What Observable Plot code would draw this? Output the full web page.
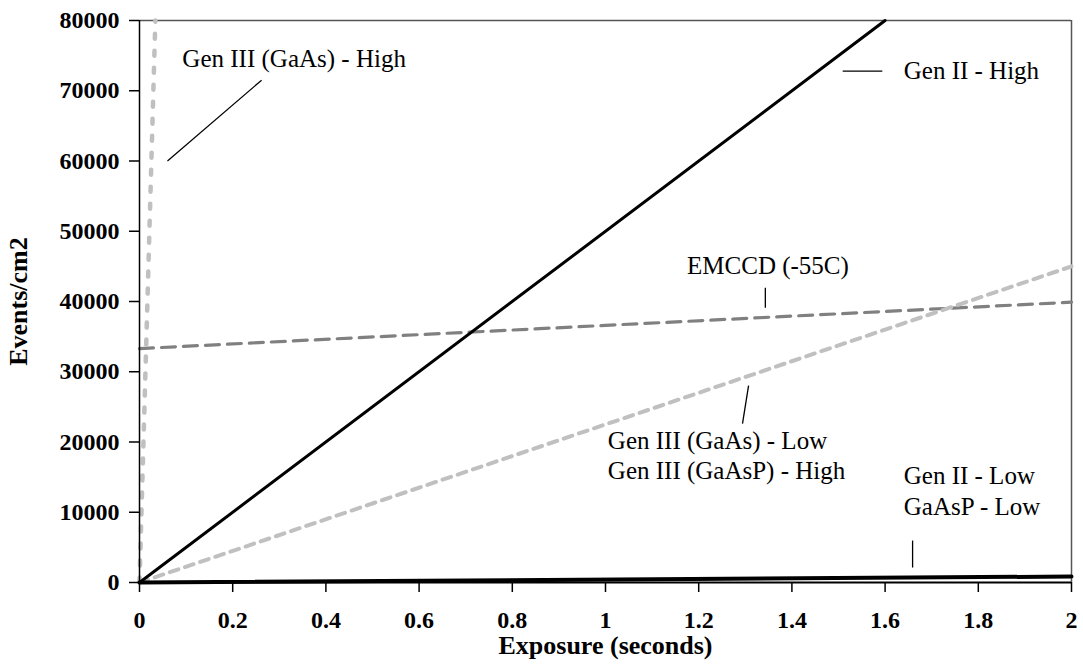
<!DOCTYPE html>
<html>
<head>
<meta charset="utf-8">
<script src="https://cdn.jsdelivr.net/npm/d3@7"></script>
<script src="https://cdn.jsdelivr.net/npm/@observablehq/plot@0.6"></script>
<style>
  html, body { margin: 0; padding: 0; background: white; }
</style>
</head>
<body>
<div id="chart"></div>
<script>
// ---- Data ----
const xTicks = [0, 0.2, 0.4, 0.6, 0.8, 1, 1.2, 1.4, 1.6, 1.8, 2];
const yTicks = [0, 10000, 20000, 30000, 40000, 50000, 60000, 70000, 80000];

// series endpoints (x = exposure in s, y = events/cm2)
const genIIHighX = [0, 1.6];
const genIIHighY = [0, 80000];
const genIILowX = [0, 2];
const genIILowY = [0, 850];
const gaasLowX = [0, 2];
const gaasLowY = [0, 45000];
const gaasHighX = [0, 0.034];
const gaasHighY = [0, 80000];
const emccdX = [0, 2];
const emccdY = [33300, 39900];

// annotation labels (data coordinates)
const labelText = [
  "Gen III (GaAs) - High",
  "Gen II - High",
  "EMCCD (-55C)",
  "Gen III (GaAs) - Low",
  "Gen III (GaAsP) - High",
  "Gen II - Low",
  "GaAsP - Low"
];
const labelX = [0.092, 1.64, 1.175, 1.005, 1.005, 1.64, 1.64];
const labelY = [74500, 72800, 45000, 20200, 15900, 15100, 10700];

// leader lines (data coordinates)
const leaderX1 = [0.060, 1.509, 1.343, 1.294, 1.659];
const leaderY1 = [60000, 72800, 41950, 22610, 5970];
const leaderX2 = [0.262, 1.594, 1.343, 1.307, 1.659];
const leaderY2 = [71500, 72800, 39110, 28020, 2130];

// ---- Build tables ----
const toPts = (xs, ys) => xs.map((x, i) => ({x, y: ys[i]}));
const labels = labelText.map((t, i) => ({text: t, x: labelX[i], y: labelY[i]}));
const leaders = leaderX1.map((x1, i) => ({x1, y1: leaderY1[i], x2: leaderX2[i], y2: leaderY2[i]}));

const chart = Plot.plot({
  width: 1083,
  height: 664,
  marginLeft: 139,
  marginRight: 12,
  marginTop: 20,
  marginBottom: 82,
  x: {domain: [0, 2]},
  y: {domain: [0, 80000]},
  style: {
    fontFamily: "'Liberation Serif', 'Times New Roman', serif",
    background: "white",
    color: "black"
  },
  marks: [
    // frame (top and right)
    Plot.ruleY([80000], {stroke: "#555", strokeWidth: 1.5}),
    Plot.ruleX([2], {stroke: "#555", strokeWidth: 1.5}),
    // series
    Plot.line(toPts(emccdX, emccdY), {x: "x", y: "y", stroke: "#808080", strokeWidth: 3.2, strokeDasharray: "14,8"}),
    Plot.line(toPts(gaasLowX, gaasLowY), {x: "x", y: "y", stroke: "#c0c0c0", strokeWidth: 4, strokeDasharray: "9,7"}),
    Plot.line(toPts(gaasHighX, gaasHighY), {x: "x", y: "y", stroke: "#c0c0c0", strokeWidth: 4.5, strokeDasharray: "5,12"}),
    Plot.line(toPts(genIIHighX, genIIHighY), {x: "x", y: "y", stroke: "black", strokeWidth: 3}),
    Plot.line(toPts(genIILowX, genIILowY), {x: "x", y: "y", stroke: "black", strokeWidth: 4}),
    // axes
    Plot.ruleX([0], {stroke: "black", strokeWidth: 1.5}),
    Plot.ruleY([0], {stroke: "black", strokeWidth: 2}),
    Plot.axisY({ticks: yTicks, tickSize: 10, tickPadding: 10, fontSize: 24, fontWeight: "bold", label: null, tickFormat: d => String(d), strokeWidth: 1.5}),
    Plot.axisX({ticks: xTicks, tickSize: 10, tickPadding: 18, fontSize: 24, fontWeight: "bold", label: null, tickFormat: d => String(d), strokeWidth: 1.5}),
    // axis titles
    Plot.text(["Exposure (seconds)"], {frameAnchor: "bottom", lineAnchor: "middle", textAnchor: "middle", dy: 63, fontSize: 26, fontWeight: "bold", fill: "black"}),
    Plot.text(["Events/cm2"], {frameAnchor: "left", lineAnchor: "middle", textAnchor: "middle", dx: -121, rotate: -90, fontSize: 26, fontWeight: "bold", fill: "black"}),
    // annotations
    Plot.link(leaders, {x1: "x1", y1: "y1", x2: "x2", y2: "y2", stroke: "black", strokeWidth: 1.3}),
    Plot.text(labels, {x: "x", y: "y", text: "text", textAnchor: "start", lineAnchor: "middle", fontSize: 25, fill: "black"})
  ]
});

document.getElementById("chart").appendChild(chart);
</script>
</body>
</html>
